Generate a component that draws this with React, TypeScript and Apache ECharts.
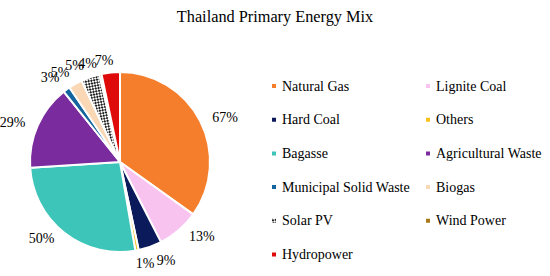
import React, { useEffect, useRef } from "react";
import * as echarts from "echarts";

const categories = [
  "Natural Gas",
  "Lignite Coal",
  "Hard Coal",
  "Others",
  "Bagasse",
  "Agricultural Waste",
  "Municipal Solid Waste",
  "Biogas",
  "Solar PV",
  "Wind Power",
  "Hydropower",
];
// slice shares
const shares = [34.9, 7.6, 4.2, 0.6, 26.7, 15.3, 1.25, 2.5, 3.3, 0.4, 3.3];
// labels printed next to slices
const labelTexts = ["67%", "13%", "9%", "1%", "50%", "29%", "3%", "5%", "5%", "4%", "7%"];
const colors = [
  "#F47E2B",
  "#F9C3F0",
  "#0B1A5A",
  "#F6C21A",
  "#3EC5B9",
  "#7A2C9E",
  "#14649E",
  "#FAD7B5",
  "#FFFFFF",
  "#A7791B",
  "#DF0A0A",
];
const leftLegend = ["Natural Gas", "Hard Coal", "Bagasse", "Municipal Solid Waste", "Solar PV", "Hydropower"];
const rightLegend = ["Lignite Coal", "Others", "Agricultural Waste", "Biogas", "Wind Power"];

const FONT = "Times New Roman";

// manual placement (layout only) for crowded labels, keyed by data index
const labelSpots: Record<number, [number, number]> = {
  2: [166, 260],
  3: [145, 263],
  6: [50, 77],
  7: [60, 72],
  8: [74.5, 65.5],
  9: [87.5, 63],
  10: [104, 60],
};

export default function App() {
  const ref = useRef<HTMLDivElement>(null);
  useEffect(() => {
    if (!ref.current) return;
    const chart = echarts.init(ref.current, null, { renderer: "svg" });
    const legendCommon = {
      orient: "vertical" as const,
      itemWidth: 6,
      itemHeight: 6,
      itemGap: 13.7,
      icon: "rect",
      height: 205,
      textStyle: { fontFamily: FONT, fontSize: 14, color: "#000", lineHeight: 20 },
      selectedMode: false,
    };
    chart.setOption({
      animation: false,
      title: {
        text: "Thailand Primary Energy Mix",
        left: 270,
        textAlign: "center",
        top: 3,
        textStyle: { fontFamily: FONT, fontSize: 16.3, fontWeight: "normal", color: "#000" },
      },
      legend: [
        { ...legendCommon, data: leftLegend, left: 265, top: 71 },
        { ...legendCommon, data: rightLegend, left: 419, top: 71 },
      ],
      series: [
        {
          type: "pie",
          center: [120, 162],
          radius: [0, 90],
          startAngle: 90,
          clockwise: true,
          avoidLabelOverlap: false,
          itemStyle: { borderColor: "#fff", borderWidth: 2 },
          label: {
            show: true,
            position: "outside",
            fontFamily: FONT,
            fontSize: 14,
            color: "#000",
            formatter: (p: any) => labelTexts[p.dataIndex],
          },
          labelLine: { show: false, length: 8, length2: 0 },
          labelLayout: (p: any) => {
            const s = labelSpots[p.dataIndex];
            if (!s) return {};
            return { x: s[0], y: s[1], align: "center", verticalAlign: "middle" };
          },
          data: categories.map((name, i) => ({
            name,
            value: shares[i],
            itemStyle:
              name === "Solar PV"
                ? {
                    color: colors[i],
                    decal: {
                      symbol: "rect",
                      color: "#222",
                      symbolSize: 1,
                      dashArrayX: [[2, 2], [0, 2, 2, 0]],
                      dashArrayY: [2, 0],
                      rotation: 0.6,
                    },
                  }
                : { color: colors[i] },
          })),
        },
      ],
    });
    return () => chart.dispose();
  }, []);
  return (
    <div
      ref={ref}
      style={{ position: "absolute", left: 0, top: 0, width: 550, height: 276 }}
    />
  );
}
